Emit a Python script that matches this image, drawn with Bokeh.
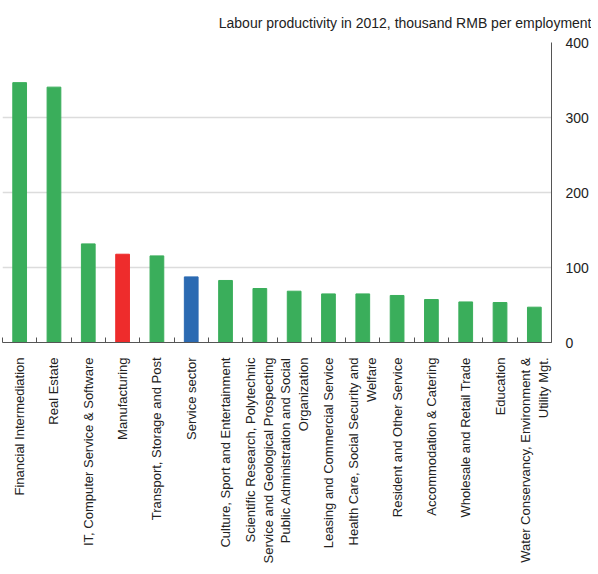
from bokeh.plotting import figure
from bokeh.models import Range1d, FixedTicker, ColumnDataSource
from bokeh.embed import file_html
from bokeh.resources import INLINE
import math

categories = [
    "Financial Intermediation",
    "Real Estate",
    "IT, Computer Service & Software",
    "Manufacturing",
    "Transport, Storage and Post",
    "Service sector",
    "Culture, Sport and Entertainment",
    "Scientific Research, Polytechnic\nService and Geological Prospecting",
    "Public Administration and Social\nOrganization",
    "Leasing and Commercial Service",
    "Health Care, Social Security and\nWelfare",
    "Resident and Other Service",
    "Accommodation & Catering",
    "Wholesale and Retail Trade",
    "Education",
    "Water Conservancy, Environment &\nUtility Mgt.",
]
values = [346.5, 340.5, 131.5, 117.7, 115.5, 87.5, 82.7, 72, 68.4, 64.8, 64.8, 62.7, 57.3, 54.1, 53.3, 47.1]
y_ticks = [0, 100, 200, 300, 400]
title_text = "Labour productivity in 2012, thousand RMB per employment"

GREEN = "#3aae5b"
special = {"Manufacturing": "#ee2c2c", "Service sector": "#2b6ab2"}
colors = [special.get(c, GREEN) for c in categories]
xs = [i + 0.5 for i in range(len(categories))]

src = ColumnDataSource(dict(x=xs, top=values, color=colors))

FONT = "Liberation Sans"

p = figure(frame_width=549, frame_height=300, output_backend="svg", toolbar_location=None,
           x_range=Range1d(0, len(categories)), y_range=Range1d(0, 400),
           y_axis_location="right", title=title_text,
           min_border_left=2, min_border_right=38, min_border_top=42, min_border_bottom=0)
p.title.align = "right"
p.title.offset = -40
p.title.standoff = 24
p.title.text_font = FONT
p.title.text_font_size = "14px"
p.title.text_font_style = "normal"
p.title.text_color = "#222222"
p.outline_line_color = None
p.background_fill_color = "white"

p.vbar(x="x", top="top", width=0.4, color="color", source=src)

# x axis
xa = p.xaxis[0]
xa.ticker = FixedTicker(ticks=xs, minor_ticks=list(range(len(categories) + 1)))
xa.major_label_overrides = {x: c for x, c in zip(xs, categories)}
xa.major_label_orientation = math.pi / 2
xa.major_tick_line_color = None
xa.minor_tick_in = 5
xa.minor_tick_out = 0
xa.minor_tick_line_color = "#555555"
xa.axis_line_color = "#555555"
xa.major_label_text_font = FONT
xa.major_label_text_font_size = "13px"
xa.major_label_text_color = "#222222"
xa.major_label_standoff = 9

# y axis (right)
ya = p.yaxis[0]
ya.ticker = FixedTicker(ticks=y_ticks)
ya.major_tick_line_color = None
ya.minor_tick_line_color = None
ya.axis_line_color = "#555555"
ya.major_label_text_font = FONT
ya.major_label_text_font_size = "14px"
ya.major_label_text_color = "#222222"
ya.major_label_standoff = 8

p.xgrid.grid_line_color = None
p.ygrid.ticker = FixedTicker(ticks=y_ticks[1:-1])
p.ygrid.grid_line_color = "#dcdcdc"
p.ygrid.grid_line_width = 1.5

open("out.html", "w").write(file_html(p, INLINE))
